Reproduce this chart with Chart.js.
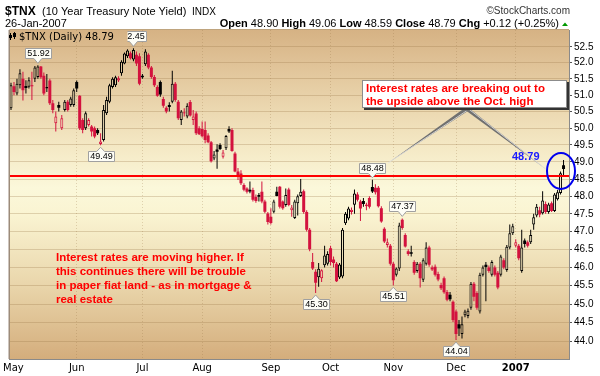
<!DOCTYPE html>
<html>
<head>
<meta charset="utf-8">
<title>$TNX daily</title>
<script src="https://cdn.jsdelivr.net/npm/chart.js@4.4.1/dist/chart.umd.min.js"></script>
<style>
  html, body { margin: 0; padding: 0; background: #fff; }
  canvas { display: block; }
</style>
</head>
<body>
<canvas id="tnxChart" width="600" height="376"></canvas>
<script>
// ----- Data (one entry per trading day, May 1 2006 .. Jan 26 2007) -----
const monthNames = ['May', 'Jun', 'Jul', 'Aug', 'Sep', 'Oct', 'Nov', 'Dec', '2007'];
const monthStart = [0, 22, 44, 64, 87, 107, 128, 149, 169];
const yTicks = [44.0, 44.5, 45.0, 45.5, 46.0, 46.5, 47.0, 47.5, 48.0, 48.5, 49.0, 49.5, 50.0, 50.5, 51.0, 51.5, 52.0, 52.5];

const openP = [
  50.60, 51.27, 51.05, 51.30, 51.50, 51.28, 51.26, 51.30, 51.50, 51.56, 51.88, 51.60, 51.20, 51.45, 50.75, 50.15, 50.70, 50.00, 50.55, 50.80, 50.70, 50.70,
  51.40, 50.98, 50.25, 50.00, 50.10, 50.05, 50.00, 49.95, 49.53, 49.65, 50.45, 50.80, 51.25, 51.30, 51.45, 51.67, 51.98, 52.20, 52.30, 52.10, 52.25, 52.20,
  51.60, 51.95, 52.25, 51.85, 51.56, 51.25, 51.40, 50.88, 50.62, 50.70, 50.80, 51.35, 50.80, 50.25, 50.44, 50.35, 50.79, 50.25, 50.44, 50.00,
  49.98, 49.95, 49.78, 49.58, 49.10, 49.37, 49.50, 49.15, 49.40, 49.98, 49.95, 49.25, 48.72, 48.66, 48.33, 48.23, 48.19, 48.18, 47.98, 48.04, 48.13, 47.85, 47.51,
  47.42, 47.56, 48.13, 48.28, 47.85, 47.75, 48.20, 47.60, 47.38, 47.80, 48.01, 48.15, 47.55, 47.05, 46.15, 45.88, 45.73, 45.70, 46.06, 46.10,
  46.53, 46.22, 46.10, 45.72, 45.75, 47.23, 47.37, 47.55, 47.76, 48.05, 47.85, 47.87, 47.72, 47.95, 48.27, 48.25, 48.25, 47.66, 47.08, 46.62, 46.60,
  46.10, 45.80, 45.97, 47.33, 46.90, 46.45, 46.42, 46.15, 45.90, 46.10, 45.66, 46.10, 46.55, 46.00, 46.02, 45.82, 45.52, 45.70, 45.33, 45.25, 45.06,
  44.80, 44.46, 44.20, 44.70, 44.68, 44.90, 45.55, 45.30, 44.80, 45.80, 46.07, 46.00, 45.80, 46.00, 45.85, 45.80, 46.20, 45.93, 46.55, 46.95,
  46.60, 46.60, 45.90, 46.75, 46.70, 46.70, 47.20, 47.45, 47.60, 47.52, 47.78, 47.55, 47.80, 47.58, 47.92, 48.10, 48.90
];
const highP = [
  51.38, 51.40, 51.50, 51.80, 51.72, 51.46, 51.55, 51.72, 51.90, 51.92, 51.90, 51.70, 51.65, 51.50, 50.85, 50.50, 50.80, 50.40, 50.85, 50.85, 50.95, 51.20,
  51.45, 51.00, 50.30, 50.50, 50.30, 50.10, 50.05, 50.00, 49.85, 50.70, 50.95, 51.35, 51.55, 51.60, 51.58, 52.08, 52.32, 52.42, 52.35, 52.45, 52.35, 52.30,
  51.65, 52.42, 52.30, 51.90, 51.62, 51.30, 51.45, 50.95, 50.66, 50.78, 51.75, 51.40, 50.85, 50.55, 50.60, 50.75, 50.85, 50.55, 50.50, 50.06,
  50.20, 50.20, 49.85, 49.62, 49.32, 49.52, 49.55, 49.35, 49.80, 50.06, 50.00, 49.30, 48.82, 48.76, 48.38, 48.26, 48.43, 48.25, 48.05, 48.10, 48.43, 47.90, 47.55,
  47.66, 47.90, 48.28, 48.30, 47.88, 48.23, 48.25, 47.75, 47.90, 48.05, 48.50, 48.20, 47.60, 47.10, 46.40, 45.95, 46.12, 45.95, 46.60, 46.45,
  46.60, 46.30, 46.15, 46.12, 47.10, 47.55, 47.70, 47.68, 48.20, 48.12, 47.90, 47.95, 47.82, 48.00, 48.48, 48.35, 48.30, 47.72, 47.12, 46.80, 46.65,
  46.15, 46.00, 47.25, 47.37, 46.95, 46.50, 46.60, 46.20, 46.15, 46.15, 46.25, 46.70, 46.60, 46.05, 46.08, 45.88, 45.58, 45.75, 45.38, 45.33, 45.10,
  44.85, 44.57, 44.67, 44.85, 44.88, 45.60, 45.60, 45.35, 45.85, 46.05, 46.15, 46.05, 46.20, 46.05, 45.90, 46.35, 46.25, 46.62, 47.20, 47.22,
  46.78, 46.65, 47.05, 46.80, 46.75, 47.05, 47.50, 47.78, 47.70, 48.15, 47.85, 47.82, 47.85, 48.10, 48.18, 48.72, 49.06
];
const lowP = [
  50.55, 51.00, 51.00, 51.20, 50.84, 51.05, 51.20, 50.85, 51.40, 51.50, 51.50, 51.00, 51.10, 50.70, 50.45, 49.90, 50.50, 49.95, 50.50, 50.50, 50.65, 50.65,
  51.10, 49.95, 49.85, 49.95, 50.05, 49.75, 49.70, 49.80, 49.49, 49.60, 50.40, 50.75, 51.20, 51.25, 51.40, 51.60, 51.95, 52.15, 52.10, 52.05, 51.90, 51.30,
  51.50, 51.90, 51.80, 51.50, 51.25, 50.95, 50.95, 50.62, 50.45, 50.50, 50.75, 50.80, 50.25, 50.10, 50.35, 50.30, 50.35, 50.10, 49.80, 49.80,
  49.72, 49.55, 49.55, 48.98, 49.05, 48.80, 49.35, 49.10, 49.35, 49.86, 49.30, 48.70, 48.47, 48.33, 48.15, 48.08, 48.09, 47.85, 47.82, 47.85, 47.80, 47.52, 47.20,
  47.20, 47.52, 48.00, 47.65, 47.62, 47.70, 47.72, 47.42, 47.35, 47.45, 47.98, 47.50, 47.00, 46.45, 45.93, 45.30, 45.47, 45.60, 46.00, 46.05,
  46.05, 46.00, 45.60, 45.68, 45.70, 47.18, 47.32, 47.48, 47.50, 47.85, 47.30, 47.70, 47.60, 47.65, 48.10, 48.05, 47.68, 47.25, 46.68, 46.55, 46.05,
  45.51, 45.75, 45.90, 47.05, 46.55, 46.32, 46.30, 45.80, 45.85, 45.45, 45.60, 46.05, 46.02, 45.90, 45.75, 45.62, 45.38, 45.28, 45.08, 45.08, 44.52,
  44.04, 44.15, 44.08, 44.65, 44.62, 44.85, 45.08, 44.85, 44.75, 45.75, 45.08, 45.85, 45.75, 45.75, 45.40, 45.75, 45.95, 45.88, 46.50, 46.90,
  46.55, 46.20, 45.85, 46.55, 46.55, 46.65, 47.05, 47.40, 47.40, 47.48, 47.50, 47.50, 47.55, 47.55, 47.88, 48.05, 48.59
];
const closeP = [
  51.30, 51.10, 51.35, 51.67, 51.15, 51.22, 51.46, 51.27, 51.85, 51.88, 51.55, 51.05, 51.25, 50.75, 50.55, 50.35, 50.62, 50.30, 50.80, 50.55, 50.90, 51.15,
  51.20, 50.00, 49.95, 50.45, 50.25, 49.90, 49.75, 49.85, 49.60, 50.55, 50.85, 51.30, 51.50, 51.55, 51.52, 52.03, 52.29, 52.38, 52.14, 52.40, 51.98, 51.35,
  51.55, 52.35, 51.85, 51.56, 51.30, 50.98, 51.02, 50.68, 50.50, 50.64, 51.35, 50.85, 50.30, 50.50, 50.48, 50.68, 50.38, 50.35, 49.85, 49.82,
  49.76, 49.65, 49.58, 49.02, 49.22, 49.30, 49.38, 49.28, 49.77, 49.90, 49.32, 48.72, 48.57, 48.38, 48.19, 48.13, 48.14, 47.90, 47.87, 47.99, 47.85, 47.56, 47.27,
  47.24, 47.85, 48.01, 47.70, 47.66, 48.04, 47.75, 47.68, 47.85, 48.00, 48.13, 47.55, 47.05, 46.50, 45.97, 45.58, 45.96, 45.92, 46.33, 46.37,
  46.15, 46.12, 45.62, 46.08, 47.05, 47.50, 47.65, 47.62, 48.08, 47.90, 47.65, 47.78, 47.77, 47.70, 48.14, 48.12, 47.72, 47.28, 46.72, 46.70, 46.10,
  45.65, 45.97, 47.17, 47.10, 46.58, 46.37, 46.38, 45.85, 46.10, 45.70, 46.20, 46.55, 46.07, 45.94, 45.80, 45.67, 45.43, 45.32, 45.12, 45.13, 44.57,
  44.20, 44.35, 44.46, 44.80, 44.82, 45.55, 45.20, 44.90, 45.80, 46.00, 46.01, 45.90, 46.15, 45.80, 45.45, 46.30, 46.00, 46.57, 46.95, 47.15,
  46.70, 46.25, 46.55, 46.65, 46.60, 46.90, 47.40, 47.70, 47.48, 47.88, 47.55, 47.77, 47.58, 48.05, 48.12, 48.67, 48.79
];

// marked highs / lows with their value boxes
const markDays = [9, 41, 30, 121, 131, 102, 128, 149];
const markValues = [51.92, 52.45, 49.49, 48.48, 47.37, 45.30, 45.51, 44.04];
const markAbove = [true, true, false, true, true, false, false, false];
const breakoutLevel = 48.6;

const RED = '#d3123e';
const BLACK = '#000000';
const GRID = 'rgba(150,115,70,0.28)';

let plotGrad = null, gradKey = '';
function plotGradient(chart) {
    const a = chart.chartArea;
    if (!a) return '#f7efcf';
    const key = a.top + ':' + a.bottom;
    if (!plotGrad || gradKey !== key) {
        const g = chart.ctx.createLinearGradient(0, a.top, 0, a.bottom);
        g.addColorStop(0, '#d6b284');
        g.addColorStop(0.15, '#e4caa0');
        g.addColorStop(0.35, '#f4e8c4');
        g.addColorStop(0.48, '#fbf8da');
        g.addColorStop(0.56, '#faf4d2');
        g.addColorStop(0.78, '#e9d5aa');
        g.addColorStop(1, '#d4ad7c');
        plotGrad = g; gradKey = key;
    }
    return plotGrad;
}

function candleColor(i) {
    return i > 0 && closeP[i] < closeP[i - 1] ? RED : BLACK;
}
function isHollow(i) { return closeP[i] > openP[i]; }

const bodies = openP.map((o, i) => ({ x: i, y: [o, closeP[i]] }));
const wicks = lowP.map((l, i) => ({ x: i, y: [l, highP[i]] }));

function valueBox(ctx, px, py, text, above) {
    const w = 26, h = 10;
    const bx = Math.round(px - w / 2) + 0.5;
    const by = above ? Math.round(py - 7 - h) + 0.5 : Math.round(py + 6) + 0.5;
    ctx.beginPath();
    if (above) {
        ctx.moveTo(bx, by); ctx.lineTo(bx + w, by); ctx.lineTo(bx + w, by + h);
        ctx.lineTo(px + 4, by + h); ctx.lineTo(px, py - 2); ctx.lineTo(px - 4, by + h);
        ctx.lineTo(bx, by + h);
    } else {
        ctx.moveTo(bx, by + h); ctx.lineTo(bx + w, by + h); ctx.lineTo(bx + w, by);
        ctx.lineTo(px + 4, by); ctx.lineTo(px, py + 2); ctx.lineTo(px - 4, by);
        ctx.lineTo(bx, by);
    }
    ctx.closePath();
    ctx.fillStyle = '#fdfdf6';
    ctx.fill();
    ctx.strokeStyle = '#a0a0a0';
    ctx.lineWidth = 1;
    ctx.stroke();
    ctx.fillStyle = '#000';
    ctx.font = '9px "Liberation Sans"';
    ctx.textAlign = 'center';
    ctx.textBaseline = 'middle';
    ctx.fillText(text, bx + w / 2, by + h / 2 + 0.5);
}

function wedge(ctx, ax, ay, bx, by, half) {
    const dx = bx - ax, dy = by - ay, len = Math.hypot(dx, dy);
    const nx = -dy / len, ny = dx / len;
    ctx.beginPath();
    ctx.moveTo(ax + nx * half, ay + ny * half);
    ctx.lineTo(bx, by);
    ctx.lineTo(ax - nx * half, ay - ny * half);
    ctx.closePath();
    ctx.fillStyle = '#707070';
    ctx.fill();
    ctx.beginPath();
    ctx.moveTo(ax - nx * half * 0.6, ay - ny * half * 0.6);
    ctx.lineTo(bx, by);
    ctx.strokeStyle = '#e6e6e6';
    ctx.lineWidth = 0.8;
    ctx.stroke();
}

// ----- Drawing extras: background, notes, header -----
const tnxPlugin = {
    id: 'tnxExtras',
    beforeDraw(chart) {
        const { ctx, chartArea: a } = chart;
        ctx.save();
        ctx.fillStyle = '#fff';
        ctx.fillRect(0, 0, chart.width, chart.height);
        ctx.fillStyle = plotGradient(chart);
        ctx.fillRect(a.left, a.top, a.right - a.left, a.bottom - a.top);
        ctx.restore();
    },
    afterDatasetsDraw(chart) {
        const { ctx, chartArea: a, scales: { x, y } } = chart;
        ctx.save();

        // breakout line above the Oct. high
        const ly = y.getPixelForValue(breakoutLevel);
        ctx.fillStyle = '#ff0000';
        ctx.fillRect(a.left, Math.round(ly) - 1, a.right - a.left, 2);

        // value boxes at the swing highs / lows
        markDays.forEach((d, k) => {
            valueBox(ctx, x.getPixelForValue(d), y.getPixelForValue(markValues[k]), markValues[k].toFixed(2), markAbove[k]);
        });

        // callout
        wedge(ctx, 467, 109, 388, 163, 2.2);
        wedge(ctx, 467, 109, 547, 170, 1.8);
        ctx.fillStyle = '#333';
        ctx.fillRect(364, 82, 205, 28);
        ctx.fillStyle = '#fff';
        ctx.fillRect(362, 80, 205, 28);
        ctx.strokeStyle = '#8c8c8c';
        ctx.lineWidth = 1;
        ctx.strokeRect(362.5, 80.5, 204, 27);
        ctx.fillStyle = '#ff0000';
        ctx.font = 'bold 11.5px "Liberation Sans"';
        ctx.textAlign = 'left';
        ctx.textBaseline = 'alphabetic';
        ctx.fillText('Interest rates are breaking out to', 366, 92);
        ctx.fillText('the upside above the Oct. high', 366, 105);

        // circled last bar
        ctx.beginPath();
        ctx.ellipse(561, 171, 14, 18, 0, 0, Math.PI * 2);
        ctx.strokeStyle = '#0000ee';
        ctx.lineWidth = 2;
        ctx.stroke();
        ctx.fillStyle = '#1a1aff';
        ctx.font = 'bold 11px "Liberation Sans"';
        ctx.fillText(closeP[closeP.length - 1].toFixed(2), 512, 160);

        // comment bottom left
        ctx.fillStyle = '#ff0000';
        ctx.font = 'bold 11.5px "Liberation Sans"';
        ['Interest rates are moving higher. If',
         'this continues there will be trouble',
         'in paper fiat land - as in mortgage &',
         'real estate'].forEach((t, k) => ctx.fillText(t, 56, 261 + k * 14));

        ctx.restore();
    },
    afterDraw(chart) {
        const { ctx, chartArea: a } = chart;
        const n = closeP.length - 1;
        ctx.save();

        // plot frame (left edge, top edge)
        ctx.fillStyle = '#9c8b7a';
        ctx.fillRect(a.left - 1, a.top, 1.5, a.bottom - a.top);
        ctx.fillStyle = '#bfa47e';
        ctx.fillRect(a.left, a.top - 1, a.right - a.left, 1);

        // legend inside plot
        ctx.fillStyle = plotGradient(chart);
        ctx.fillRect(a.left + 1, a.top + 1, 117, 11);
        ctx.fillStyle = '#000';
        ctx.fillRect(10, 33, 1, 7); ctx.fillRect(9, 35, 3, 3);
        ctx.fillRect(14, 32, 1, 7); ctx.fillRect(13, 33, 3, 4);
        ctx.font = '10px "DejaVu Sans"';
        ctx.textAlign = 'left';
        ctx.textBaseline = 'alphabetic';
        ctx.fillText('$TNX (Daily) ' + closeP[n].toFixed(2), 19, 40);

        // header lines
        ctx.font = 'bold 12px "Liberation Sans"';
        ctx.fillText('$TNX', 5, 15);
        ctx.font = '11px "Liberation Sans"';
        ctx.fillText('(10 Year Treasury Note Yield)', 42, 15);
        ctx.font = '10px "Liberation Sans"';
        ctx.fillText('INDX', 192, 15);
        ctx.font = '11px "Liberation Sans"';
        ctx.fillText('26-Jan-2007', 5, 27);

        ctx.fillStyle = '#333';
        ctx.font = '10px "Liberation Sans"';
        ctx.textAlign = 'right';
        ctx.fillText('\u00A9StockCharts.com', 570, 14);

        const chg = closeP[n] - closeP[n - 1];
        const pct = chg / closeP[n - 1] * 100;
        const parts = [
            ['Open', true], [' ' + openP[n].toFixed(2) + ' ', false],
            ['High', true], [' ' + highP[n].toFixed(2) + ' ', false],
            ['Low', true], [' ' + lowP[n].toFixed(2) + ' ', false],
            ['Close', true], [' ' + closeP[n].toFixed(2) + ' ', false],
            ['Chg', true], [' +' + chg.toFixed(2) + ' (+' + pct.toFixed(2) + '%)', false]
        ];
        const fontOf = b => (b ? 'bold ' : '') + '11px "Liberation Sans"';
        let total = 0;
        parts.forEach(p => { ctx.font = fontOf(p[1]); total += ctx.measureText(p[0]).width; });
        let cx = 559 - total;
        ctx.textAlign = 'left';
        ctx.fillStyle = '#000';
        parts.forEach(p => { ctx.font = fontOf(p[1]); ctx.fillText(p[0], cx, 27); cx += ctx.measureText(p[0]).width; });
        ctx.fillStyle = '#009900';
        ctx.beginPath();
        ctx.moveTo(562, 26); ctx.lineTo(568, 26); ctx.lineTo(565, 22.5); ctx.closePath();
        ctx.fill();

        ctx.restore();
    }
};

// ----- Chart -----
const ctx = document.getElementById('tnxChart').getContext('2d');
const tnxChart = new Chart(ctx, {
    type: 'bar',
    data: {
        datasets: [
            {
                label: 'body',
                data: bodies,
                grouped: false,
                barThickness: 3,
                minBarLength: 1,
                borderSkipped: false,
                inflateAmount: 0,
                borderWidth: c => isHollow(c.dataIndex) ? 1 : 0,
                borderColor: c => candleColor(c.dataIndex),
                backgroundColor: c => isHollow(c.dataIndex) ? plotGradient(c.chart) : candleColor(c.dataIndex)
            },
            {
                label: 'wick',
                data: wicks,
                grouped: false,
                barThickness: 1,
                borderWidth: 0,
                inflateAmount: 0,
                backgroundColor: c => candleColor(c.dataIndex)
            }
        ]
    },
    options: {
        responsive: false,
        animation: false,
        devicePixelRatio: 1,
        events: [],
        layout: { padding: { left: 7, top: 30, right: 0, bottom: 0 } },
        plugins: { legend: { display: false }, tooltip: { enabled: false } },
        scales: {
            x: {
                type: 'linear',
                min: -0.5,
                max: 186.83,
                offset: false,
                afterBuildTicks: s => { s.ticks = monthStart.map((v, k) => ({ value: k === 0 ? 0.8 : v })); },
                afterFit: s => { s.height = 17; },
                ticks: {
                    autoSkip: false,
                    maxRotation: 0,
                    padding: 3,
                    color: '#000',
                    font: c => ({ family: 'DejaVu Sans', size: 10, weight: c.index === 8 ? 'bold' : 'normal' }),
                    callback: (v, k) => monthNames[k]
                },
                grid: { offset: false, drawTicks: false, color: c => c.index === 0 ? 'rgba(0,0,0,0)' : GRID },
                border: { display: true, color: '#8a8a8a', dash: [1, 2] }
            },
            y: {
                type: 'logarithmic',
                position: 'right',
                min: 43.544,
                max: 53.03,
                afterBuildTicks: s => { s.ticks = yTicks.map(v => ({ value: v })); },
                afterFit: s => { s.width = 31; },
                ticks: {
                    autoSkip: false,
                    padding: 2,
                    color: '#000',
                    font: { family: 'Liberation Sans', size: 10 },
                    callback: v => Number(v).toFixed(1)
                },
                grid: { color: GRID, tickLength: 3, tickColor: '#555' },
                border: { display: true, color: '#8a8a8a' }
            }
        }
    },
    plugins: [tnxPlugin]
});
</script>
</body>
</html>
